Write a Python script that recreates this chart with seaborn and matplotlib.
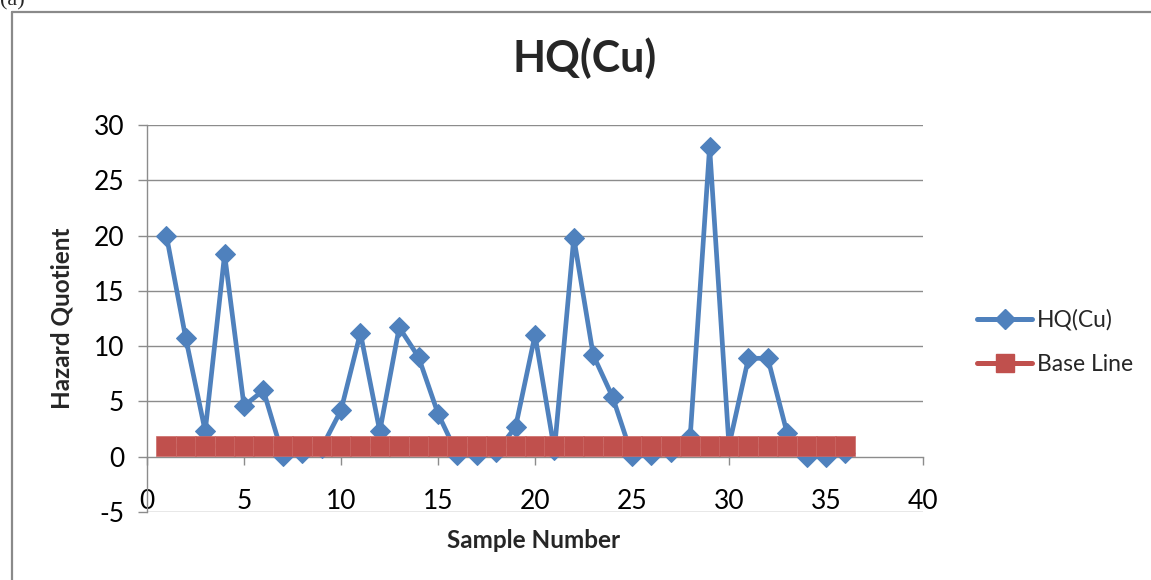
import matplotlib
matplotlib.use("Agg")
import matplotlib.pyplot as plt
from matplotlib.lines import Line2D
import seaborn as sns
import pandas as pd

# ---- data ----
samples = list(range(1, 37))
hq_cu = [20.0, 10.7, 2.3, 18.3, 4.6, 6.0, 0.1, 0.3, 0.8, 4.2, 11.2, 2.3,
         11.7, 9.0, 3.9, 0.2, 0.2, 0.4, 2.7, 11.0, 0.6, 19.8, 9.2, 5.4,
         0.1, 0.2, 0.4, 1.8, 28.0, 1.0, 8.9, 8.9, 2.1, 0.0, 0.0, 0.3]
base_line = [1] * 36
series_names = ["HQ(Cu)", "Base Line"]
x_ticks = [0, 5, 10, 15, 20, 25, 30, 35, 40]
y_ticks = [-5, 0, 5, 10, 15, 20, 25, 30]
title = "HQ(Cu)"
x_label = "Sample Number"
y_label = "Hazard Quotient"

df_hq = pd.DataFrame({"Sample": samples, "HQ": hq_cu})
df_base = pd.DataFrame({"Sample": samples, "HQ": base_line})

sns.set_style("white")
plt.rcParams["font.family"] = ["Lato", "DejaVu Sans"]

BLUE = "#4F81BD"
RED = "#C0504D"
GRID = "#8c8c8c"

fig = plt.figure(figsize=(11.51, 5.80), dpi=100)
ax = fig.add_axes([147 / 1151, 68 / 580, 776 / 1151, 387 / 580])

sns.lineplot(data=df_hq, x="Sample", y="HQ", ax=ax, color=BLUE, lw=3.4,
             marker="D", markersize=10.5, markeredgecolor=BLUE,
             label=series_names[0], zorder=3)
sns.lineplot(data=df_base, x="Sample", y="HQ", ax=ax, color=RED, lw=3.2,
             marker="s", markersize=14.0, markeredgecolor="#cc6a67",
             markeredgewidth=0.5, label=series_names[1], zorder=4)

ax.set_xlim(0, 40)
ax.set_ylim(-5, 30)
ax.set_xticks(x_ticks)
ax.set_yticks(y_ticks)
ax.set_xticklabels([str(t) for t in x_ticks])
ax.set_yticklabels([str(t) for t in y_ticks])

ax.grid(False)
for t in y_ticks:
    if t != 0:
        ax.axhline(t, color=GRID, lw=1.0, zorder=1)

for s in ["top", "right"]:
    ax.spines[s].set_visible(False)
ax.spines["bottom"].set_position(("data", 0))
ax.spines["bottom"].set_color(GRID)
ax.spines["left"].set_color(GRID)
ax.spines["bottom"].set_linewidth(1.0)
ax.spines["left"].set_linewidth(1.0)

ax.tick_params(axis="x", direction="out", length=6, width=1, color=GRID,
               pad=17, labelsize=19, labelcolor="black", bottom=True)
ax.tick_params(axis="y", direction="out", length=6.5, width=1, color=GRID,
               pad=10, labelsize=19, labelcolor="black", left=True)

ax.set_xlabel(x_label, fontsize=17.5, fontweight="bold")
ax.xaxis.set_label_coords((534 - 147) / 776, (512 - 541) / 387)
ax.xaxis.label.set_va("center")
ax.set_ylabel(y_label, fontsize=17.5, fontweight="bold")
ax.yaxis.set_label_coords((62 - 147) / 776, (512 - 318) / 387)
ax.yaxis.label.set_va("center")

ax.set_title(title, fontsize=31, fontweight="bold",
             x=(585 - 147) / 776, y=(512 - 67) / 387, va="center")

handles = [Line2D([0], [0], color=BLUE, lw=3.6, marker="D", markersize=10),
           Line2D([0], [0], color=RED, lw=3.6, marker="s", markersize=13)]
leg = ax.legend(handles, series_names, loc="center left",
                bbox_to_anchor=(977 / 1151, 1 - 342 / 580),
                bbox_transform=fig.transFigure, frameon=False, fontsize=16.5,
                borderpad=0, borderaxespad=0, handlelength=2.4,
                handletextpad=0.2, labelspacing=1.0)

# outer chart border and panel label
fig.add_artist(Line2D([12 / 1151, 12 / 1151], [0, 1 - 12 / 580],
                      transform=fig.transFigure, color="#8a8a8a", lw=1.6))
fig.add_artist(Line2D([12 / 1151, 1], [1 - 12 / 580, 1 - 12 / 580],
                      transform=fig.transFigure, color="#8a8a8a", lw=1.6))
fig.text(0.0, 1 - 5 / 580, "(a)", family=["Liberation Serif"], fontsize=16,
         va="baseline", ha="left")

fig.savefig("out.png", dpi=100)
